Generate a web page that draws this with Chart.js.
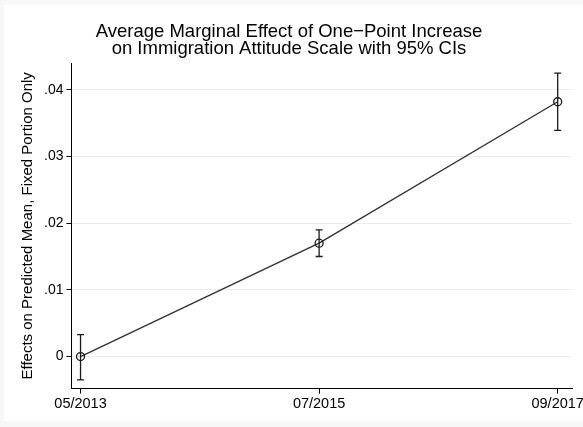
<!DOCTYPE html>
<html>
<head>
<meta charset="utf-8">
<script src="https://cdn.jsdelivr.net/npm/chart.js@4"></script>
<style>
  html, body { margin: 0; padding: 0; background: #f7f7f7; }
  #wrap { position: relative; width: 583px; height: 427px; }
  #panel { position: absolute; left: 4px; top: 5px; width: 579px; height: 416px; background: #fff; }
  #grafico { position: absolute; left: 0; top: 0; }
</style>
</head>
<body>
<div id="wrap">
  <div id="panel"></div>
  <canvas id="grafico" width="583" height="427"></canvas>
</div>
<script>
const periodos = ['05/2013', '07/2015', '09/2017'];
const efeitos = [0.0000, 0.0170, 0.0382];
const ciBaixo = [-0.0035, 0.0150, 0.0339];
const ciAlto = [0.0033, 0.0190, 0.0425];
const yTicks = [0, 0.01, 0.02, 0.03, 0.04];

const pontos = efeitos.map((v, i) => ({ x: i, y: v }));

// draws the 95% CI whiskers using the chart scales
const barrasErro = {
    id: 'barrasErro',
    afterDatasetsDraw(chart) {
        const ctx = chart.ctx;
        const xs = chart.scales.x;
        const ys = chart.scales.y;
        ctx.save();
        ctx.strokeStyle = '#1a1a1a';
        ctx.lineWidth = 1.3;
        efeitos.forEach((v, i) => {
            const px = xs.getPixelForValue(i);
            const top = ys.getPixelForValue(ciAlto[i]);
            const bot = ys.getPixelForValue(ciBaixo[i]);
            ctx.beginPath();
            ctx.moveTo(px, top); ctx.lineTo(px, bot);
            ctx.moveTo(px - 3.5, top); ctx.lineTo(px + 3.5, top);
            ctx.moveTo(px - 3.5, bot); ctx.lineTo(px + 3.5, bot);
            ctx.stroke();
        });
        ctx.restore();
    }
};

const fonte = "'Liberation Sans', Arial, sans-serif";

new Chart(document.getElementById('grafico').getContext('2d'), {
    type: 'scatter',
    data: {
        datasets: [{
            data: pontos,
            showLine: true,
            borderColor: '#333',
            borderWidth: 1.4,
            pointRadius: 4,
            pointBorderWidth: 1.3,
            pointBackgroundColor: 'rgba(0,0,0,0)',
            pointBorderColor: '#1a1a1a'
        }]
    },
    plugins: [barrasErro],
    options: {
        responsive: false,
        animation: false,
        layout: { padding: { left: 6, right: 11, top: 6, bottom: 12 } },
        plugins: {
            legend: { display: false },
            tooltip: { enabled: false },
            title: {
                display: true,
                text: ['Average Marginal Effect of One\u2212Point Increase', 'on Immigration Attitude Scale with 95% CIs'],
                color: '#000',
                font: { family: fonte, size: 18.5, weight: 'normal', lineHeight: 0.92 },
                padding: { top: 17, bottom: 6 }
            }
        },
        scales: {
            x: {
                type: 'linear',
                min: -0.038,
                max: 2.06,
                afterBuildTicks: (ax) => { ax.ticks = periodos.map((p, i) => ({ value: i })); },
                afterFit: (ax) => { ax.paddingRight = 0; ax.paddingLeft = 0; },
                ticks: {
                    callback: (v) => periodos[v],
                    color: '#000',
                    font: { family: fonte, size: 14.5 },
                    padding: 2,
                    maxRotation: 0,
                    autoSkip: false
                },
                grid: { drawOnChartArea: false, drawTicks: true, tickLength: 5, tickColor: '#000' },
                border: { display: true, color: '#000', width: 1 }
            },
            y: {
                min: -0.0048,
                max: 0.044,
                afterBuildTicks: (ax) => { ax.ticks = yTicks.map(v => ({ value: v })); },
                ticks: {
                    callback: (v) => v === 0 ? '0' : v.toFixed(2).replace(/^0/, ''),
                    color: '#000',
                    font: { family: fonte, size: 14 },
                    padding: 3
                },
                grid: { color: '#ebebeb', lineWidth: 1, drawTicks: true, tickLength: 5, tickColor: '#000' },
                border: { display: true, color: '#000', width: 1 },
                title: {
                    display: true,
                    text: 'Effects on Predicted Mean, Fixed Portion Only',
                    color: '#000',
                    font: { family: fonte, size: 15, lineHeight: 1.2 },
                    padding: { top: 13, bottom: 4 }
                }
            }
        }
    }
});
</script>
</body>
</html>
